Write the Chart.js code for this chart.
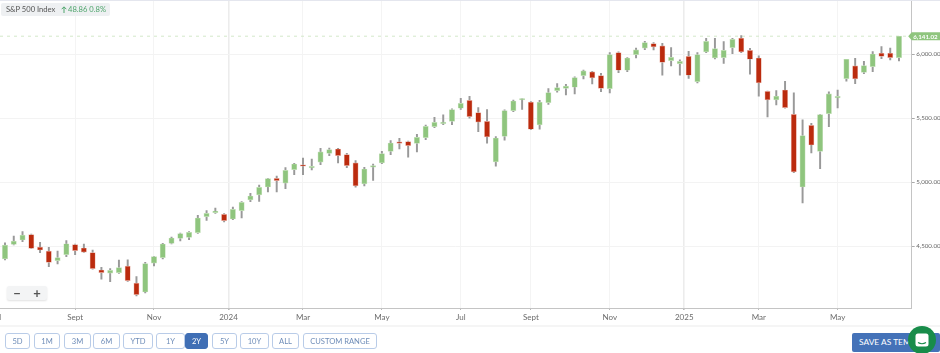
<!DOCTYPE html>
<html>
<head>
<meta charset="utf-8">
<title>S&amp;P 500 Index</title>
<script src="https://cdn.jsdelivr.net/npm/chart.js@4/dist/chart.umd.min.js"></script>
<style>
  html, body { margin: 0; padding: 0; background: #fff; overflow: hidden; }
  body { width: 940px; height: 353px; position: relative; font-family: Lato, sans-serif; }
  #myChart { position: absolute; left: 0; top: 0; }
  .topline { position: absolute; left: 0; top: 0; width: 940px; height: 1px; background: #e4e6ee; }
  .strip { position: absolute; left: 0; top: 325px; width: 940px; height: 2px; background: #f5f5f5; }
  .badge { position: absolute; left: 1px; top: 3px; width: 109px; height: 13px; background: #eef0f2; border-radius: 2px; font-size: 7.6px; line-height: 13px; color: #555; white-space: nowrap; }
  .badge span { position: absolute; top: 0; }
  .badge .up { left: 67px; color: #4fa56c; }
  .badge svg { position: absolute; left: 60px; top: 3px; }
  .zoombox { position: absolute; left: 7px; top: 286px; width: 40px; height: 14px; background: #f3f4f5; border-radius: 2px; box-shadow: 0 1px 2px rgba(0,0,0,.12); color: #555; font-size: 13px; font-weight: 700; line-height: 14px; }
  .zoombox span { position: absolute; top: 0; width: 20px; text-align: center; }
  .rangebtn { position: absolute; top: 333px; height: 14px; box-sizing: content-box; border: 1px solid #b9cce8; border-radius: 3px; color: #6f8db8; font-size: 7.6px; line-height: 14px; text-align: center; background: #fff; white-space: nowrap; }
  .rangebtn.active { background: #406fb5; border-color: #406fb5; color: #fff; }
  .save { position: absolute; left: 852px; top: 333px; width: 88px; height: 19px; background: #4472b8; border-radius: 2px; color: #fff; font-size: 8.4px; line-height: 19px; padding-left: 7px; box-sizing: border-box; overflow: hidden; white-space: nowrap; }
  .bubble { position: absolute; left: 908px; top: 326px; width: 28px; height: 28px; border-radius: 50%; background: #188c4a; }
  .bubble svg { position: absolute; left: 7px; top: 7px; }
</style>
</head>
<body>
<canvas id="myChart" width="940" height="326"></canvas>
<div class="topline"></div>
<div class="strip"></div>
<div class="badge"><span style="left:5px">S&amp;P 500 Index</span><svg width="6" height="7" viewBox="0 0 6 7"><path d="M3 7 V1 M0.7 3.2 L3 0.8 L5.3 3.2" stroke="#4fa56c" stroke-width="1" fill="none"/></svg><span class="up">48.86 0.8%</span></div>
<div class="zoombox"><span style="left:0">−</span><span style="left:20px">+</span></div>
<div id="ranges"></div>
<div class="save">SAVE AS TEMPLATE</div>
<div class="bubble">
  <svg width="14" height="14" viewBox="0 0 14 14"><rect x="0.5" y="0.5" width="13" height="13" rx="2.5" fill="#fff"/><path d="M3 9.5 Q7 12 11 9.5" stroke="#188c4a" stroke-width="1.2" fill="none"/></svg>
</div>

<script>
// velas semanales, valores
const opens = [4401,4515,4549,4591,4494,4463,4388,4434,4513,4487,4450,4315,4291,4294,4346,4213,4143,4369,4411,4523,4562,4570,4606,4731,4763,4750,4713,4778,4862,4901,4963,5031,4994,5099,5135,5112,5158,5226,5260,5216,5151,4987,5119,5151,5242,5312,5317,5304,5349,5434,5458,5476,5578,5640,5544,5476,5159,5359,5560,5643,5627,5448,5622,5716,5734,5742,5833,5862,5833,5732,6013,5875,5997,6047,6083,6065,5950,5927,5984,5786,6018,5971,5974,6052,6125,6031,5971,5711,5643,5721,5531,4963,5445,5242,5536,5659,5810,5909,5859,5903,6008,6008,5974];
const highs = [4528,4580,4614,4596,4531,4492,4463,4544,4518,4518,4471,4336,4325,4393,4395,4263,4375,4422,4523,4572,4604,4614,4742,4778,4799,4755,4807,4849,4914,4979,5031,5049,5114,5148,5190,5182,5265,5268,5265,5226,5169,5117,5143,5242,5325,5343,5322,5375,5447,5507,5526,5573,5656,5672,5583,5568,5357,5565,5643,5651,5630,5640,5732,5771,5765,5823,5877,5867,5851,6013,6018,5974,6049,6101,6091,6086,6052,5956,6023,6013,6125,6125,6099,6125,6146,6047,5987,5713,5716,5789,5698,5487,5461,5531,5706,5721,5961,5969,5945,6021,6060,6049,6141];
const lows = [4393,4510,4536,4481,4450,4341,4362,4419,4434,4453,4322,4244,4224,4289,4226,4112,4135,4346,4401,4518,4541,4552,4601,4703,4757,4690,4708,4721,4849,4851,4924,4924,4950,5059,5059,5096,5138,5208,5151,5114,4961,4971,5015,5145,5216,5260,5197,5237,5333,5427,5450,5450,5570,5500,5396,5305,5125,5328,5552,5570,5411,5414,5609,5703,5682,5690,5807,5768,5708,5698,5857,5864,5971,6036,6034,5836,5909,5836,5812,5776,6013,5963,5929,6005,6013,5844,5672,5510,5604,5578,5075,4838,5229,5107,5435,5580,5789,5771,5849,5864,5966,5956,5948];
const closes = [4510,4541,4588,4484,4471,4375,4411,4520,4466,4455,4325,4294,4312,4333,4231,4122,4364,4419,4518,4565,4599,4609,4721,4757,4776,4700,4789,4843,4893,4961,5028,5013,5093,5143,5125,5119,5237,5255,5208,5130,4971,5104,5130,5224,5307,5304,5286,5351,5437,5468,5466,5568,5617,5513,5469,5354,5346,5560,5635,5648,5414,5627,5700,5739,5752,5818,5870,5815,5734,5997,5875,5971,6034,6091,6057,5937,5976,5945,5836,5997,6101,6044,6031,6117,6018,5961,5776,5643,5672,5583,5081,5364,5291,5528,5690,5664,5961,5807,5911,6002,5984,5974,6141.02];

const xTickValues = [-1, 8, 17, 25.5, 34, 43, 52, 60, 69, 77.5, 86, 95];
const xTickLabels = ['Jul', 'Sept', 'Nov', '2024', 'Mar', 'May', 'Jul', 'Sept', 'Nov', '2025', 'Mar', 'May'];
const yTickValues = [4500, 5000, 5500, 6000];
const rangeLabels = ['5D', '1M', '3M', '6M', 'YTD', '1Y', '2Y', '5Y', '10Y', 'ALL', 'CUSTOM RANGE'];
const rangeLefts = [5, 34, 64, 93, 123, 156, 185, 212, 240, 272, 303];
const rangeWidths = [23, 24, 25, 25, 28, 27, 21, 23, 27, 25, 72];

const xMin = -0.57;
const xMax = 103.45;
const lastClose = closes[closes.length - 1];

const green = '#8fc57e';
const red = '#bb2b0e';

// botones de rango
const ranges = document.getElementById('ranges');
rangeLabels.forEach((label, i) => {
  const b = document.createElement('div');
  b.className = 'rangebtn' + (label === '2Y' ? ' active' : '');
  b.style.left = rangeLefts[i] + 'px';
  b.style.width = rangeWidths[i] + 'px';
  b.textContent = label;
  ranges.appendChild(b);
});

const bodies = closes.map((c, i) => ({ x: i, y: [opens[i], c] }));
const wicks = closes.map((c, i) => ({ x: i, y: [lows[i], highs[i]] }));
const isUp = (i) => closes[i] >= opens[i];

// etiqueta verde con el ultimo precio
const lastPriceTag = {
  id: 'lastPriceTag',
  afterDraw(chart) {
    const ctx = chart.ctx;
    const y = chart.scales.y.getPixelForValue(lastClose);
    const left = chart.chartArea.right;
    ctx.save();
    ctx.fillStyle = green;
    ctx.beginPath();
    ctx.moveTo(left - 3.5, y);
    ctx.lineTo(left, y - 4);
    ctx.lineTo(940, y - 4);
    ctx.lineTo(940, y + 4);
    ctx.lineTo(left, y + 4);
    ctx.closePath();
    ctx.fill();
    ctx.fillStyle = '#fff';
    ctx.font = '700 6.2px Lato';
    ctx.textAlign = 'left';
    ctx.textBaseline = 'middle';
    ctx.fillText(lastClose.toLocaleString('en-US', { minimumFractionDigits: 2 }), left + 1.5, y + 0.5);
    ctx.restore();
  }
};

new Chart(document.getElementById('myChart').getContext('2d'), {
  type: 'bar',
  data: {
    datasets: [
      {
        type: 'line',
        data: [{ x: xMin, y: lastClose }, { x: xMax, y: lastClose }],
        borderColor: '#d3e8ca',
        borderWidth: 1,
        borderDash: [3, 4],
        pointRadius: 0,
        order: 3
      },
      {
        data: wicks,
        backgroundColor: '#999999',
        barThickness: 1.3,
        grouped: false,
        order: 2
      },
      {
        data: bodies,
        backgroundColor: (c) => isUp(c.dataIndex) ? green : red,
        borderColor: (c) => isUp(c.dataIndex) ? '#c9e3bf' : '#eab7ac',
        borderWidth: 0.7,
        borderSkipped: false,
        barThickness: 5.3,
        minBarLength: 1.5,
        grouped: false,
        order: 1
      }
    ]
  },
  options: {
    responsive: false,
    animation: false,
    layout: { padding: { top: 1, left: 0, right: 0, bottom: 0 } },
    plugins: { legend: { display: false }, tooltip: { enabled: false } },
    scales: {
      x: {
        type: 'linear',
        offset: false,
        min: xMin,
        max: xMax,
        grid: {
          offset: false,
          color: (c) => (c.tick && (c.tick.value === 25.5 || c.tick.value === 77.5)) ? '#ececec' : '#f4f4f4',
          lineWidth: (c) => (c.tick && (c.tick.value === 25.5 || c.tick.value === 77.5)) ? 1.6 : 1,
          tickColor: '#bbbbbb',
          tickLength: 2
        },
        border: { color: '#c4c4c4', width: 1 },
        afterBuildTicks(scale) {
          scale.ticks = xTickValues.map((v) => ({ value: v }));
        },
        afterFit(scale) {
          scale.paddingLeft = 0;
          scale.paddingRight = 0;
          scale.height = 18;
        },
        ticks: {
          autoSkip: false,
          maxRotation: 0,
          padding: 3,
          color: '#6b6b6b',
          font: { family: 'Lato', size: 8 },
          callback: (v) => xTickLabels[xTickValues.indexOf(v)]
        }
      },
      y: {
        position: 'right',
        min: 4018,
        max: 6416,
        grid: { color: '#f3f3f3', tickColor: '#aaaaaa', tickLength: 3 },
        border: { color: '#c4c4c4', width: 1 },
        afterBuildTicks(scale) {
          scale.ticks = yTickValues.map((v) => ({ value: v }));
        },
        afterFit(scale) {
          scale.width = 28.3;
          scale.paddingTop = 0;
          scale.paddingBottom = 0;
        },
        ticks: {
          padding: 1.5,
          color: '#666666',
          font: { family: 'Lato', size: 6.2 },
          callback: (v) => v.toLocaleString('en-US', { minimumFractionDigits: 2 })
        }
      }
    }
  },
  plugins: [lastPriceTag]
});
</script>
</body>
</html>
